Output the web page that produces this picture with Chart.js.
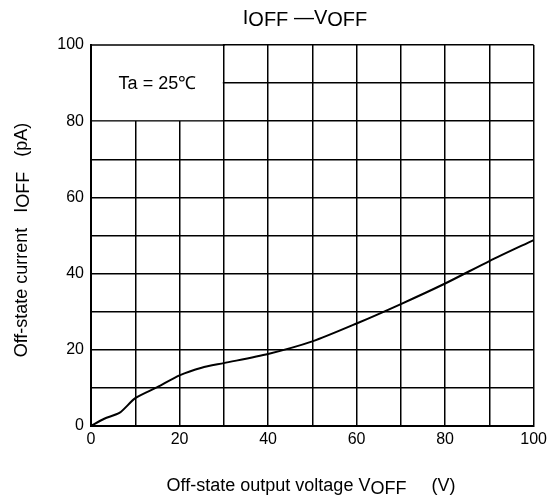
<!DOCTYPE html>
<html>
<head>
<meta charset="utf-8">
<script src="https://cdn.jsdelivr.net/npm/chart.js@4.4.0/dist/chart.umd.min.js"></script>
<style>
    html, body { margin: 0; padding: 0; background: #fff; }
    #wrap { width: 551px; height: 500px; }
</style>
</head>
<body>
<div id="wrap"><canvas id="ioffChart" width="551" height="500"></canvas></div>
<script>
// Off-state voltage (V) and current (pA)
const voltage = [0, 3, 6.5, 10, 15, 20, 25, 30, 40, 50, 60, 70, 80, 90, 100];
const current = [0, 1.9, 3.5, 7.3, 10.2, 13.3, 15.3, 16.5, 18.9, 22.2, 26.9, 32, 37.4, 43.3, 48.8];
const tickLabels = [0, 20, 40, 60, 80, 100];

const FONT = 'Arial, "Liberation Sans", sans-serif';

// draws pieces of text one after another, each with its own vertical shift
function drawRuns(ctx, runs, cx, cy) {
    const total = runs.reduce((w, r) => w + ctx.measureText(r.t).width, 0);
    let x = cx - total / 2;
    ctx.textAlign = 'left';
    runs.forEach(r => {
        ctx.fillText(r.t, x, cy + (r.dy || 0));
        x += ctx.measureText(r.t).width;
    });
}

const textPlugin = {
    id: 'texts',
    beforeDatasetsDraw(chart) {
        // blank box in the upper-left corner with the temperature note
        const ctx = chart.ctx;
        const xs = chart.scales.x, ys = chart.scales.y;
        const x0 = xs.getPixelForValue(0), x1 = xs.getPixelForValue(30);
        const y0 = ys.getPixelForValue(100), y1 = ys.getPixelForValue(80);
        ctx.save();
        ctx.fillStyle = '#fff';
        ctx.fillRect(x0 + 1, y0 - 2, x1 - x0 - 2, y1 - y0 + 1);
        ctx.fillStyle = '#000';
        ctx.fillRect(x0, y0 - 0.75, x1 - x0 + 1, 1.5);
        ctx.font = '18px ' + FONT;
        ctx.textAlign = 'center';
        ctx.textBaseline = 'middle';
        ctx.fillText('Ta = 25\u2103', (x0 + x1) / 2, (y0 + y1) / 2 + 1);
        ctx.restore();
    },
    afterDraw(chart) {
        const ctx = chart.ctx;
        ctx.save();
        ctx.fillStyle = '#000';
        ctx.textBaseline = 'middle';
        // title
        ctx.font = '20px ' + FONT;
        drawRuns(ctx, [
            { t: 'I' }, { t: 'OFF ', dy: 2 }, { t: '\u2014V' }, { t: 'OFF', dy: 2 }
        ], 305, 18);
        // x axis title
        ctx.font = '18px ' + FONT;
        drawRuns(ctx, [
            { t: 'Off-state output voltage V' }, { t: 'OFF', dy: 3 }, { t: '     (V)' }
        ], 311, 486);
        // y axis title
        ctx.translate(22, 240);
        ctx.rotate(-Math.PI / 2);
        drawRuns(ctx, [
            { t: 'Off-state current   I' }, { t: 'OFF', dy: 2 }, { t: '   (pA)' }
        ], 0, 0);
        ctx.restore();
    }
};

const ctx = document.getElementById('ioffChart').getContext('2d');
new Chart(ctx, {
    type: 'line',
    data: {
        datasets: [{
            data: voltage.map((v, i) => ({ x: v, y: current[i] })),
            borderColor: '#000',
            borderWidth: 2,
            pointRadius: 0,
            tension: 0.25,
            fill: false
        }]
    },
    options: {
        responsive: false,
        animation: false,
        layout: { padding: { left: 0, right: 15, top: 45, bottom: 0 } },
        plugins: {
            legend: { display: false },
            tooltip: { enabled: false }
        },
        scales: {
            x: {
                type: 'linear',
                min: 0,
                max: 100,
                afterFit(scale) { scale.height = 74; },
                grid: { color: '#000', lineWidth: 1.5, drawTicks: false },
                border: { color: '#000', width: 2 },
                ticks: {
                    stepSize: 10,
                    padding: 4,
                    color: '#000',
                    font: { family: FONT, size: 16 },
                    maxRotation: 0,
                    autoSkip: false,
                    callback: v => tickLabels.includes(v) ? v : ''
                }
            },
            y: {
                type: 'linear',
                min: 0,
                max: 100,
                afterFit(scale) { scale.width = 91; },
                grid: { color: '#000', lineWidth: 1.5, drawTicks: false },
                border: { color: '#000', width: 2 },
                ticks: {
                    stepSize: 10,
                    padding: 7,
                    color: '#000',
                    font: { family: FONT, size: 16 },
                    autoSkip: false,
                    callback: v => tickLabels.includes(v) ? v : ''
                }
            }
        }
    },
    plugins: [textPlugin]
});
</script>
</body>
</html>
